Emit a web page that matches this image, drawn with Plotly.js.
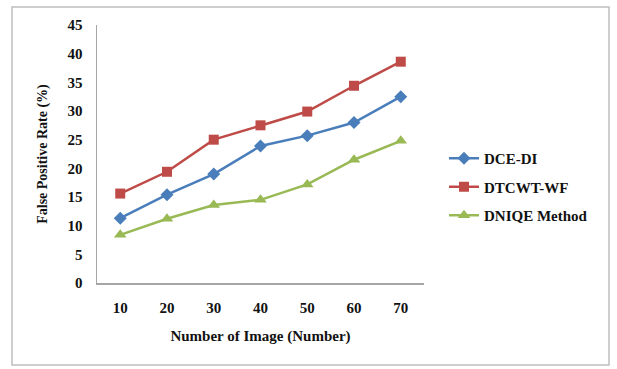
<!DOCTYPE html>
<html><head><meta charset="utf-8">
<script src="https://cdn.plot.ly/plotly-3.0.1.min.js"></script>
<style>body{margin:0;padding:0;background:#fff}#chart{width:617px;height:369px}</style>
</head><body><div id="chart"></div>
<script>
var categories = ['10','20','30','40','50','60','70'];
var dceDI = [11.3, 15.4, 19.0, 23.9, 25.7, 28.0, 32.5];
var dtcwtWF = [15.6, 19.4, 25.0, 27.5, 29.9, 34.4, 38.6];
var dniqe = [8.4, 11.2, 13.6, 14.5, 17.2, 21.5, 24.8];
var yTicks = [0,5,10,15,20,25,30,35,40,45];

var font = '"Liberation Serif", serif';
function tr(name, y, color, symbol, size, grp){
  return {x: categories, y: y, name: '<b>'+name+'</b>', type:'scatter', mode:'lines+markers',
    legendgroup: grp,
    line:{color:color, width:2.5}, marker:{color:color, symbol:symbol, size:size}};
}
var data = [
  tr('DCE-DI', dceDI, '#4a7ebb', 'diamond', 10, 'a'),
  tr('DTCWT-WF', dtcwtWF, '#be4b48', 'square', 10, 'b'),
  tr('DNIQE Method', dniqe, '#98b954', 'triangle-up', 11, 'c')
];
var pw = 327, ph = 258;
var layout = {
  width:617, height:369,
  margin:{l:97, r:193, t:25, b:86},
  paper_bgcolor:'#fff', plot_bgcolor:'#fff',
  showlegend:true,
  legend:{x:(444-97)/pw, y:(283-142)/ph, xanchor:'left', yanchor:'top',
    traceorder:'grouped', tracegroupgap:6,
    font:{family:font, size:15, color:'#111'}, bgcolor:'rgba(0,0,0,0)'},
  xaxis:{type:'category', showline:true, linecolor:'#a6a6a6', linewidth:1.5,
    showgrid:false, zeroline:false, ticks:'', ticklabelstandoff:10,
    tickfont:{family:font, size:15, color:'#111'},
    tickvals: categories, ticktext: categories.map(function(c){return '<b>'+c+'</b>';}),
    title:{text:'<b>Number of Image (Number)</b>', font:{family:font, size:15, color:'#111'}, standoff:16}},
  yaxis:{range:[0,45], tickvals:yTicks, ticktext:yTicks.map(function(v){return '<b>'+v+'</b>';}),
    showline:true, linecolor:'#a6a6a6', linewidth:1.5, showgrid:false, zeroline:false,
    ticks:'', ticklabelstandoff:10,
    tickfont:{family:font, size:15, color:'#111'},
    title:{text:'<b>False Positive Rate (%)</b>', font:{family:font, size:14, color:'#111'}, standoff:16}},
  shapes:[{type:'rect', xref:'paper', yref:'paper',
    x0:(12-97)/pw, x1:(609-97)/pw, y0:(283-365)/ph, y1:(283-7)/ph,
    line:{color:'#bfbfbf', width:1.5}, fillcolor:'rgba(0,0,0,0)'}]
};
Plotly.newPlot('chart', data, layout, {displayModeBar:false, staticPlot:true});
</script></body></html>
